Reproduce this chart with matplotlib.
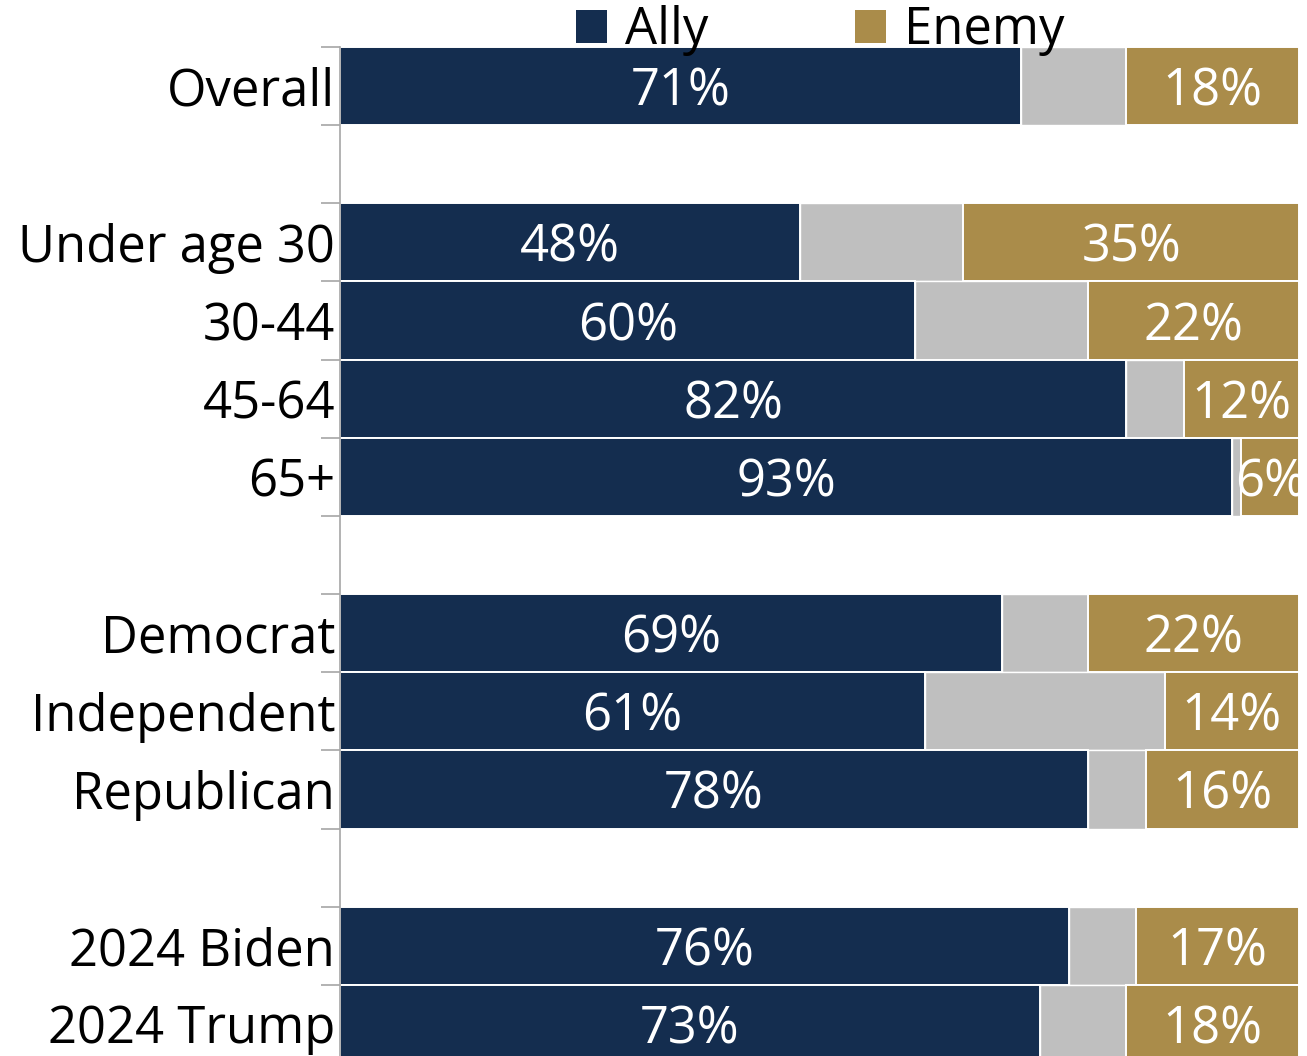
import matplotlib.pyplot as plt
from matplotlib.patches import Patch
from matplotlib.ticker import FixedLocator
import numpy as np

plt.rcParams['font.family'] = ['Open Sans', 'DejaVu Sans']

# None marks an empty spacer row between groups
categories = ["Overall", None, "Under age 30", "30-44", "45-64", "65+", None,
              "Democrat", "Independent", "Republican", None, "2024 Biden", "2024 Trump"]
ally = [71, None, 48, 60, 82, 93, None, 69, 61, 78, None, 76, 73]
enemy = [18, None, 35, 22, 12, 6, None, 22, 14, 16, None, 17, 18]

navy = "#142D4F"
grey = "#BFBFBF"
gold = "#AA8C4A"
fs = 36.5

fig = plt.figure(figsize=(13.07, 10.56), dpi=100)
# axes runs a bit past the bottom edge, the last bar is cut off like in the source
ax = fig.add_axes([340 / 1307, -7 / 1056, 959 / 1307, 1016 / 1056])

rows = [i for i, c in enumerate(categories) if c is not None]
for i in rows:
    a = ally[i]
    e = enemy[i]
    m = 100 - a - e
    ax.barh(i, a, height=1.0, color=navy, edgecolor="white", linewidth=1.4)
    ax.barh(i, m, left=a, height=1.0, color=grey, edgecolor="white", linewidth=1.0)
    ax.barh(i, e, left=a + m, height=1.0, color=gold, edgecolor="white", linewidth=1.4)
    ax.text(a / 2, i, f"{a}%", color="white", ha="center", va="center_baseline", fontsize=fs)
    ax.text(100 - e / 2, i, f"{e}%", color="white", ha="center", va="center_baseline", fontsize=fs)

ax.set_xlim(0, 100)
ax.set_ylim(len(categories) - 0.5, -0.5)
ax.set_yticks(rows)
ax.set_yticklabels([categories[i] for i in rows], fontsize=fs)
ax.yaxis.set_minor_locator(FixedLocator(np.arange(-0.5, len(categories), 1)))
ax.tick_params(axis="y", which="major", length=0, pad=3.5)
ax.tick_params(axis="y", which="minor", length=14, color="#A6A6A6", width=1.2)
ax.xaxis.set_visible(False)
for s in ["top", "right", "bottom"]:
    ax.spines[s].set_visible(False)
ax.spines["left"].set_color("#A6A6A6")
ax.spines["left"].set_linewidth(1.2)

handles = [Patch(facecolor=navy, label="Ally"), Patch(facecolor=gold, label="Enemy")]
fig.legend(handles=handles, loc="center", bbox_to_anchor=(820 / 1307, 1 - 31 / 1056),
           ncol=2, frameon=False, fontsize=fs, handlelength=0.62, handleheight=0.62,
           handletextpad=0.35, columnspacing=2.9, borderpad=0, borderaxespad=0)

fig.savefig("out.png", dpi=100)
